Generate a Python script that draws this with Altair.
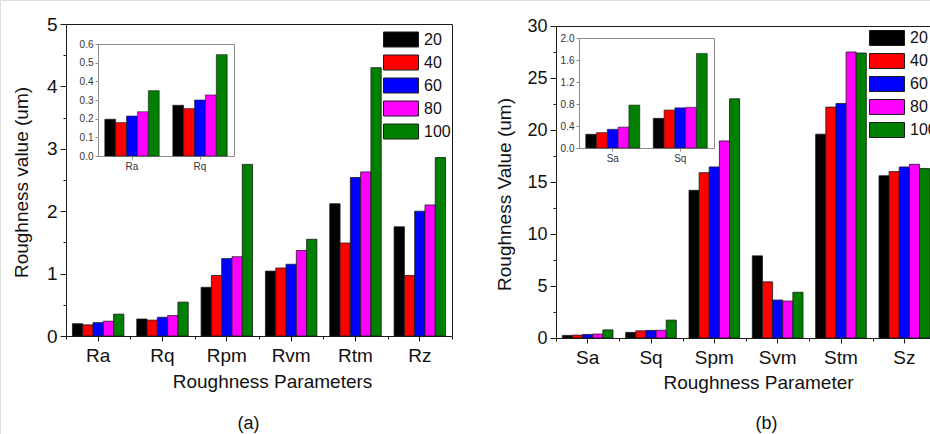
import altair as alt
import pandas as pd

# ---------------- data ----------------
series = ["20", "40", "60", "80", "100"]
colors = ["#000000", "#ff0000", "#0000ff", "#ff00ff", "#008000"]

params_a = ["Ra", "Rq", "Rpm", "Rvm", "Rtm", "Rz"]
a_20 = [0.197, 0.272, 0.78, 1.04, 2.12, 1.75]
a_40 = [0.179, 0.254, 0.97, 1.09, 1.49, 0.97]
a_60 = [0.214, 0.300, 1.24, 1.15, 2.54, 2.00]
a_80 = [0.237, 0.327, 1.27, 1.37, 2.63, 2.10]
a_100 = [0.350, 0.543, 2.75, 1.55, 4.30, 2.86]

params_b = ["Sa", "Sq", "Spm", "Svm", "Stm", "Sz"]
b_20 = [0.25, 0.54, 14.2, 7.9, 19.6, 15.6]
b_40 = [0.28, 0.69, 15.9, 5.4, 22.2, 16.0]
b_60 = [0.34, 0.73, 16.45, 3.65, 22.55, 16.45]
b_80 = [0.38, 0.74, 18.95, 3.55, 27.5, 16.7]
b_100 = [0.78, 1.72, 23.0, 4.4, 27.4, 16.3]

inset_a_params = ["Ra", "Rq"]
inset_b_params = ["Sa", "Sq"]

ticks_a = [0, 1, 2, 3, 4, 5]
ticks_b = [0, 5, 10, 15, 20, 25, 30]
inset_ticks_a = [0.0, 0.1, 0.2, 0.3, 0.4, 0.5, 0.6]
inset_ticks_b = [0.0, 0.4, 0.8, 1.2, 1.6, 2.0]


def long_table(params, cols):
    rows = []
    for s, vals in zip(series, cols):
        for i, (p, v) in enumerate(zip(params, vals)):
            rows.append({"param": p, "series": s, "value": v, "idx": i})
    return pd.DataFrame(rows)


df_a = long_table(params_a, [a_20, a_40, a_60, a_80, a_100])
df_b = long_table(params_b, [b_20, b_40, b_60, b_80, b_100])
df_ia = df_a[df_a["param"].isin(inset_a_params)]
df_ib = df_b[df_b["param"].isin(inset_b_params)]

# ---------------- layout (pixels) ----------------
W, H = 930, 434
F = "Liberation Sans"
DARK = "#1a1a1a"
GRAY = "#8c8c8c"
LEG_PATH = "M-2.333,-1H2.333V1H-2.333Z"


def bars(df, params, xr, yr, ydom, xaxis, yaxis, legend, stroke_w=0.8):
    return alt.Chart(df).mark_bar(stroke=DARK, strokeWidth=stroke_w).encode(
        x=alt.X("param:N", sort=params,
                scale=alt.Scale(domain=params, range=xr, paddingInner=0.2, paddingOuter=0.1),
                axis=xaxis),
        xOffset=alt.XOffset("series:N", sort=series, scale=alt.Scale(domain=series)),
        y=alt.Y("value:Q", scale=alt.Scale(domain=ydom, range=yr, nice=False, zero=True),
                axis=yaxis),
        color=alt.Color("series:N", sort=series,
                        scale=alt.Scale(domain=series, range=colors), legend=legend),
    )


def helper(df, n, xr, yr, ydom, xaxis, yaxis):
    return alt.Chart(df).mark_point(opacity=0).encode(
        x=alt.X("idx:Q", scale=alt.Scale(domain=[0, n], range=xr, nice=False, zero=False),
                axis=xaxis),
        y=alt.Y("value:Q", scale=alt.Scale(domain=ydom, range=yr, nice=False, zero=True),
                axis=yaxis),
    )


def legend_at(x, y):
    return alt.Legend(orient="none", legendX=x, legendY=y, title=None,
                      symbolType=LEG_PATH, symbolSize=225, symbolStrokeColor=DARK,
                      symbolStrokeWidth=1, symbolOpacity=1, labelFontSize=16, labelFont=F,
                      labelColor="#111", labelOffset=15, rowPadding=3, padding=0)


def panel(df, df_in, params, in_params, box, in_box, ymax, in_ymax, yticks, in_yticks,
          tick_fs, ytitle, ytitle_xy, xtitle, xtitle_xy, caption, caption_xy, minor,
          leg_xy, right_frame):
    X0, X1, Y0, Y1 = box
    IX0, IX1, IY0, IY1 = in_box
    n = len(params)
    main = bars(
        df, params, [X0, X1], [Y0, Y1], [0, ymax],
        alt.Axis(orient="bottom", offset=Y0 - H, labelAngle=0, labelFontSize=19,
                 labelColor="#111", labelPadding=5, tickSize=5, tickColor=DARK,
                 domainColor=DARK, grid=False, title=xtitle, titleFontSize=19,
                 titleFontWeight="normal", titleColor="#111", titleX=xtitle_xy[0],
                 titleY=xtitle_xy[1], titleBaseline="alphabetic", titleAlign="center"),
        alt.Axis(orient="left", offset=-X0, values=yticks, format="d", labelFontSize=tick_fs,
                 labelColor="#111", labelPadding=3, tickSize=6, tickColor=DARK,
                 domainColor=DARK, grid=False, title=ytitle, titleFontSize=19,
                 titleFontWeight="normal", titleColor="#111", titleAngle=270,
                 titleX=ytitle_xy[0], titleY=ytitle_xy[1], titleBaseline="alphabetic",
                 titleAlign="center"),
        legend_at(*leg_xy),
    )
    ticks = helper(
        df, n, [X0, X1], [Y0, Y1], [0, ymax],
        alt.Axis(orient="bottom", offset=Y0 - H, values=list(range(n + 1)), labels=False,
                 domain=False, tickSize=3, tickColor=DARK, grid=False, title=caption,
                 titleFont=F, titleFontSize=18, titleFontWeight="normal",
                 titleColor="#111", titleX=caption_xy[0], titleY=caption_xy[1],
                 titleBaseline="middle", titleAlign="center"),
        alt.Axis(orient="left", offset=-X0, values=minor, labels=False, domain=False,
                 tickSize=3, tickColor=DARK, grid=False, title=None),
    )
    frame = helper(
        df, n, [X0, X1], [Y0, Y1], [0, ymax],
        alt.Axis(orient="top", offset=-Y1, ticks=False, labels=False, domainColor=DARK,
                 grid=False, title=None),
        alt.Axis(orient="right", offset=X1 - W, ticks=False, labels=False, domainColor=DARK,
                 grid=False, title=None) if right_frame else None,
    )
    inset = bars(
        df_in, in_params, [IX0, IX1], [IY0, IY1], [0, in_ymax],
        alt.Axis(orient="bottom", offset=IY0 - H, labelAngle=0, labelFontSize=10,
                 labelColor="#333", labelPadding=2, tickSize=3, tickColor=GRAY,
                 domainColor=GRAY, grid=False, title=None),
        alt.Axis(orient="left", offset=-IX0, values=in_yticks, format=".1f",
                 labelFontSize=10, labelColor="#333", labelPadding=2, tickSize=3,
                 tickColor=GRAY, domainColor=GRAY, grid=False, title=None),
        None, stroke_w=0.6,
    )
    in_frame = helper(
        df_in, len(in_params), [IX0, IX1], [IY0, IY1], [0, in_ymax],
        alt.Axis(orient="top", offset=-IY1, ticks=False, labels=False, domainColor=GRAY,
                 grid=False, title=None),
        alt.Axis(orient="right", offset=IX1 - W, ticks=False, labels=False,
                 domainColor=GRAY, grid=False, title=None),
    )
    return [main, ticks, frame, inset, in_frame]


layers_a = panel(
    df_a, df_ia, params_a, inset_a_params,
    (66, 452, 336, 24), (98, 234, 156, 44), 5, 0.6, ticks_a, inset_ticks_a, 19,
    "Roughness value (um)", (-39, 182), "Roughness Parameters", (272, 51),
    "(a)", (248, 87), [0.5, 1.5, 2.5, 3.5, 4.5], (393, 31.5), True,
)
layers_b = panel(
    df_b, df_ib, params_b, inset_b_params,
    (556, 936, 338, 26), (579, 714, 148, 38), 30, 2.0, ticks_b, inset_ticks_b, 18,
    "Roughness Value (um)", (-46, 194), "Roughness Parameter", (758, 50),
    "(b)", (766, 85), [2.5, 7.5, 12.5, 17.5, 22.5, 27.5], (879, 30), False,
)

chart = alt.layer(*(layers_a + layers_b)).resolve_scale(
    x="independent", y="independent", xOffset="independent", color="independent"
).resolve_axis(
    x="independent", y="independent"
).resolve_legend(
    color="independent"
).properties(
    width=W, height=H, padding=0,
    autosize=alt.AutoSizeParams(type="none"),
).configure_view(stroke=None).configure_axis(
    labelFont=F, titleFont=F
).configure(background="white")

chart.save("out.html", embed_options={"renderer": "svg", "actions": False})
